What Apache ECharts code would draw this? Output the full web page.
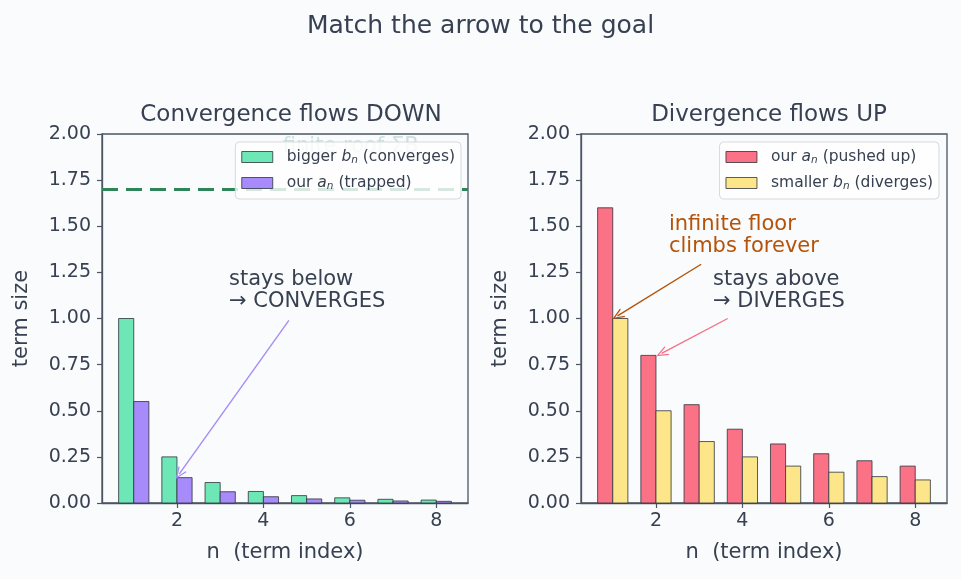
<!DOCTYPE html>
<html>
<head>
<meta charset="utf-8">
<script src="https://cdn.jsdelivr.net/npm/echarts@6/dist/echarts.min.js"></script>
<style>
  html, body { margin: 0; padding: 0; background: #fafbfd; }
  #main { width: 961px; height: 579px; }
</style>
</head>
<body>
<div id="main"></div>
<script>
// n = 1..8
var nValues = [1, 2, 3, 4, 5, 6, 7, 8];
// left panel: bigger b_n and our a_n
var leftBigger = [1.0, 0.25, 0.111, 0.0625, 0.04, 0.028, 0.020, 0.016];
var leftOurs = [0.55, 0.1375, 0.061, 0.034, 0.022, 0.015, 0.011, 0.009];
var roofValue = 1.70;
// right panel: our a_n and smaller b_n
var rightOurs = [1.6, 0.8, 0.533, 0.4, 0.32, 0.267, 0.229, 0.2];
var rightSmaller = [1.0, 0.5, 0.333, 0.25, 0.2, 0.167, 0.143, 0.125];
var xTicks = [2, 4, 6, 8];

var barW = 0.35;
var textColor = '#374151';
var axisColor = '#4b5563';
var font = 'DejaVu Sans';

// pairs of [n, value]
function toPairs(vals) {
    return nValues.map(function(n, i) { return [n, vals[i]]; });
}

// bar drawn from data coords; side -1 = left of n, 1 = right of n
function barRenderer(side) {
    return function(params, api) {
        var n = api.value(0);
        var v = api.value(1);
        var x0 = side < 0 ? n - barW : n;
        var x1 = side < 0 ? n : n + barW;
        var p0 = api.coord([x0, v]);
        var p1 = api.coord([x1, 0]);
        return {
            type: 'rect',
            shape: { x: p0[0], y: p0[1], width: p1[0] - p0[0], height: p1[1] - p0[1] },
            style: { fill: api.visual('color'), stroke: '#2d333d', lineWidth: 0.8 }
        };
    };
}

var arrowHead = 'path://M0,10 L5,0 L10,10 L8.6,10 L5,2.6 L1.4,10 Z';

function arrow(from, to, color) {
    return [
        { coord: from, symbol: 'none', lineStyle: { color: color, width: 1.4, type: 'solid' } },
        { coord: to, symbol: arrowHead, symbolSize: [10, 12] }
    ];
}

function xAxisCfg(idx) {
    return {
        type: 'value', gridIndex: idx, min: 0.265, max: 8.735,
        name: 'n  (term index)', nameLocation: 'middle', nameGap: 39,
        nameTextStyle: { color: textColor, fontSize: 21, fontFamily: font },
        axisLine: { show: true, lineStyle: { color: axisColor, width: 1.3 } },
        axisTick: { show: true, customValues: xTicks, length: 5, lineStyle: { color: axisColor, width: 1.2 } },
        axisLabel: { customValues: xTicks, color: textColor, fontSize: 19, fontFamily: font, margin: 9 },
        splitLine: { show: false }
    };
}

function yAxisCfg(idx) {
    return {
        type: 'value', gridIndex: idx, min: 0, max: 2, interval: 0.25,
        name: 'term size', nameLocation: 'middle', nameGap: 70,
        nameTextStyle: { color: textColor, fontSize: 21, fontFamily: font },
        axisLine: { show: true, lineStyle: { color: axisColor, width: 1.3 } },
        axisTick: { show: true, length: 5, lineStyle: { color: axisColor, width: 1.2 } },
        axisLabel: {
            color: textColor, fontSize: 19, fontFamily: font, margin: 11,
            formatter: function(v) { return v.toFixed(2); }
        },
        splitLine: { show: false }
    };
}

var legendLabels = {
    'bigger b_n (converges)': 'bigger {i|b}{s|n} (converges)',
    'our a_n (trapped)': 'our {i|a}{s|n} (trapped)',
    'our a_n (pushed up)': 'our {i|a}{s|n} (pushed up)',
    'smaller b_n (diverges)': 'smaller {i|b}{s|n} (diverges)'
};

function legendCfg(names, right) {
    return {
        data: names, orient: 'vertical', top: 142, right: right,
        itemWidth: 31, itemHeight: 11, itemGap: 9,
        padding: [7, 6, 7, 6],
        backgroundColor: 'rgba(255,255,255,0.8)',
        borderColor: '#d6d9df', borderWidth: 1, borderRadius: 4,
        icon: 'rect',
        itemStyle: { borderColor: '#2d333d', borderWidth: 0.8 },
        formatter: function(name) { return legendLabels[name]; },
        textStyle: {
            color: textColor, fontSize: 15.5, fontFamily: font, padding: [0, 0, 0, 9],
            rich: {
                i: { fontStyle: 'italic', fontSize: 15.5, fontFamily: font, color: textColor },
                s: { fontStyle: 'italic', fontSize: 10.5, fontFamily: font, color: textColor, padding: [7, 0, 0, 0] }
            }
        },
        z: 10
    };
}

var mcharts = echarts.init(document.getElementById('main'), null, { renderer: 'canvas' });

var option = {
    backgroundColor: '#fafbfd',
    animation: false,
    title: [
        { text: 'Match the arrow to the goal', left: 'center', top: 9,
          textStyle: { color: textColor, fontSize: 25, fontWeight: 'normal', fontFamily: font } },
        { text: 'Convergence flows DOWN', left: 286, textAlign: 'center', top: 99,
          textStyle: { color: textColor, fontSize: 23, fontWeight: 'normal', fontFamily: font } },
        { text: 'Divergence flows UP', left: 764, textAlign: 'center', top: 99,
          textStyle: { color: textColor, fontSize: 23, fontWeight: 'normal', fontFamily: font } }
    ],
    grid: [
        { left: 102, top: 134, width: 366, height: 369, show: true, borderColor: axisColor, borderWidth: 1.3, backgroundColor: 'transparent' },
        { left: 581, top: 134, width: 366, height: 369, show: true, borderColor: axisColor, borderWidth: 1.3, backgroundColor: 'transparent' }
    ],
    xAxis: [xAxisCfg(0), xAxisCfg(1)],
    yAxis: [yAxisCfg(0), yAxisCfg(1)],
    legend: [
        legendCfg(['bigger b_n (converges)', 'our a_n (trapped)'], 500),
        legendCfg(['our a_n (pushed up)', 'smaller b_n (diverges)'], 22)
    ],
    series: [
        {
            name: 'bigger b_n (converges)', type: 'custom', xAxisIndex: 0, yAxisIndex: 0,
            renderItem: barRenderer(-1), data: toPairs(leftBigger),
            itemStyle: { color: '#6ee7b7' }, encode: { x: 0, y: 1 },
            markLine: {
                silent: true, symbol: 'none', label: { show: false },
                data: [
                    { yAxis: roofValue, lineStyle: { color: '#2f855a', width: 3, type: [16, 8] } },
                    arrow([4.59, 0.99], [2.05, 0.157], '#a78bfa')
                ]
            }
        },
        {
            name: 'our a_n (trapped)', type: 'custom', xAxisIndex: 0, yAxisIndex: 0,
            renderItem: barRenderer(1), data: toPairs(leftOurs),
            itemStyle: { color: '#a78bfa' }, encode: { x: 0, y: 1 }
        },
        {
            name: 'our a_n (pushed up)', type: 'custom', xAxisIndex: 1, yAxisIndex: 1,
            renderItem: barRenderer(-1), data: toPairs(rightOurs),
            itemStyle: { color: '#fb7185' }, encode: { x: 0, y: 1 }
        },
        {
            name: 'smaller b_n (diverges)', type: 'custom', xAxisIndex: 1, yAxisIndex: 1,
            renderItem: barRenderer(1), data: toPairs(rightSmaller),
            itemStyle: { color: '#fde68a' }, encode: { x: 0, y: 1 },
            markLine: {
                silent: true, symbol: 'none', label: { show: false },
                data: [
                    arrow([3.045, 1.294], [1.11, 1.014], '#b45309'),
                    arrow([3.66, 1.0], [2.13, 0.811], '#f47189')
                ]
            }
        }
    ]
};

mcharts.setOption(option, true);

// annotation texts placed at data coordinates
var notes = [
    { grid: 0, at: [6.02, 1.93], text: 'finite roof ΣB', color: '#2f855a', align: 'center', opacity: 0.22, z: 1 },
    { grid: 0, at: [3.205, 1.152], text: 'stays below\n→ CONVERGES', color: textColor, align: 'left' },
    { grid: 1, at: [2.30, 1.452], text: 'infinite floor\nclimbs forever', color: '#b45309', align: 'left' },
    { grid: 1, at: [3.32, 1.152], text: 'stays above\n→ DIVERGES', color: textColor, align: 'left' }
];

var graphics = notes.map(function(nt) {
    var p = mcharts.convertToPixel({ gridIndex: nt.grid }, nt.at);
    return {
        type: 'text', x: p[0], y: p[1], z: nt.z || 5,
        style: {
            text: nt.text, fill: nt.color, opacity: nt.opacity || 1,
            font: '21px "' + font + '"', textAlign: nt.align, textVerticalAlign: 'middle',
            lineHeight: 22
        }
    };
});

mcharts.setOption({ graphic: graphics });
</script>
</body>
</html>
